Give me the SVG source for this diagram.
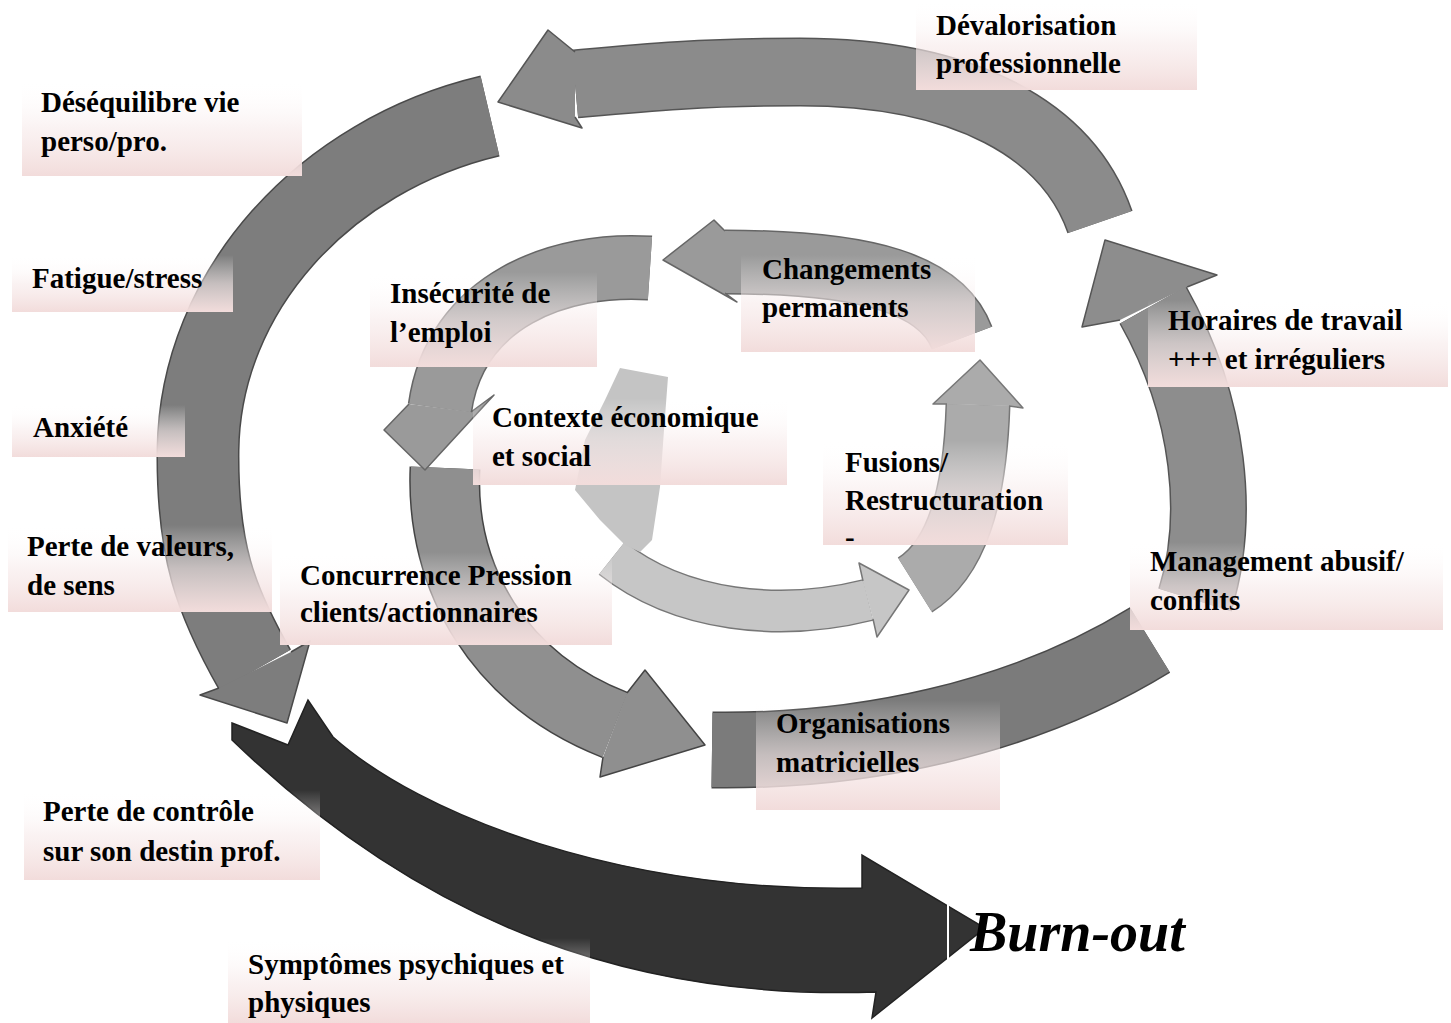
<svg xmlns="http://www.w3.org/2000/svg" width="1451" height="1023" viewBox="0 0 1451 1023">
<defs>
<linearGradient id="pink" x1="0" y1="0" x2="0" y2="1">
<stop offset="0" stop-color="#ffffff" stop-opacity="0"/>
<stop offset="0.5" stop-color="#f7eaea" stop-opacity="0.6"/>
<stop offset="1" stop-color="#f2dcdb" stop-opacity="1"/>
</linearGradient>
<style>
.box{fill:url(#pink)}
.lbl{font-family:"Liberation Serif","Times New Roman",serif;font-weight:bold;font-size:29px;fill:#000}
.burn{font-family:"Liberation Serif","Times New Roman",serif;font-weight:bold;font-style:italic;font-size:56px;fill:#000}
.edge{fill:none;stroke-linecap:butt}
.head{stroke-width:1.5;stroke-linejoin:round}
</style>
</defs>
<rect width="1451" height="1023" fill="#ffffff"/>
<g id="connectors">
<!-- F: burn-out arrow -->
<path d="M232,723 L288,745 L308,700 L333,737 C420,815 620,893 862,888 L862,855 L985,928 L872,1018 L876,992 C640,1000 430,930 232,740 Z" fill="#333333" stroke="#222" stroke-width="1.5"/>
<!-- E: left outer -->
<path class="edge" d="M490,116 C325,155 200,290 198,450 C197,550 215,600 255,670" stroke="#4a4a4a" stroke-width="83"/>
<path class="edge" d="M490,116 C325,155 200,290 198,450 C197,550 215,600 255,670" stroke="#7d7d7d" stroke-width="80"/>
<path class="head" d="M291,652 L310,641 L287,723 L200,695 L219,688" fill="#7d7d7d" stroke="#4a4a4a"/>
<!-- A: top outer -->
<path class="edge" d="M1100,222 C1068,130 965,72 800,72 C700,72 640,78 575,84" stroke="#555" stroke-width="69"/>
<path class="edge" d="M1100,222 C1068,130 965,72 800,72 C700,72 640,78 575,84" stroke="#8b8b8b" stroke-width="66"/>
<path class="head" d="M575,52 L548,30 L498,102 L582,128 L575,117" fill="#8b8b8b" stroke="#555"/>
<!-- D: organisations -->
<path class="edge" d="M712,750 C860,752 1020,720 1150,640" stroke="#4a4a4a" stroke-width="77"/>
<path class="edge" d="M712,750 C860,752 1020,720 1150,640" stroke="#7b7b7b" stroke-width="74"/>
<!-- C: right outer -->
<path class="edge" d="M1195,600 C1220,520 1212,410 1153,305" stroke="#555" stroke-width="77"/>
<path class="edge" d="M1195,600 C1220,520 1212,410 1153,305" stroke="#8d8d8d" stroke-width="74"/>
<path class="head" d="M1187,287 L1217,275 L1105,240 L1082,327 L1120,320" fill="#8d8d8d" stroke="#555"/>
<!-- K: concurrence -->
<path class="edge" d="M445,468 C440,580 500,680 615,725" stroke="#444" stroke-width="71"/>
<path class="edge" d="M445,468 C440,580 500,680 615,725" stroke="#8f8f8f" stroke-width="68"/>
<path class="head" d="M627,693 L645,670 L705,745 L600,777 L603,757" fill="#8f8f8f" stroke="#444"/>
<!-- L: insecurite -->
<path class="edge" d="M650,268 C560,262 455,300 440,408" stroke="#666" stroke-width="65"/>
<path class="edge" d="M650,268 C560,262 455,300 440,408" stroke="#9a9a9a" stroke-width="62"/>
<path class="head" d="M471,412 L494,395 L425,470 L384,430 L409,404" fill="#9a9a9a" stroke="#666"/>
<!-- G: changements -->
<path class="edge" d="M962,338 C942,285 870,262 725,262" stroke="#666" stroke-width="65"/>
<path class="edge" d="M962,338 C942,285 870,262 725,262" stroke="#9a9a9a" stroke-width="62"/>
<path class="head" d="M725,231 L714,220 L663,260 L737,302 L725,293" fill="#9a9a9a" stroke="#666"/>
<!-- H: fusions -->
<path class="edge" d="M915,585 C955,560 975,500 978,405" stroke="#777" stroke-width="65"/>
<path class="edge" d="M915,585 C955,560 975,500 978,405" stroke="#ababab" stroke-width="62"/>
<path class="head" d="M1009,406 L1023,408 L980,360 L933,404 L947,404" fill="#ababab" stroke="#777"/>
<!-- I: innermost -->
<path class="edge" d="M612,558 C680,612 780,622 868,600" stroke="#777" stroke-width="43"/>
<path class="edge" d="M612,558 C680,612 780,622 868,600" stroke="#c6c6c6" stroke-width="40"/>
<path class="head" d="M863,581 L859,563 L909,590 L877,637 L873,619" fill="#c6c6c6" stroke="#777"/>
<!-- J: centre -->
<path d="M620,368 L668,377 L664,430 L660,487 L652,540 L640,552 L625,545 L600,520 L575,490 L585,440 L605,400 Z" fill="#c4c4c4"/>
</g>
<g id="node-desequilibre"><rect class="box" x="22" y="80" width="280" height="96"/><text class="lbl" x="41" y="112">Déséquilibre vie</text><text class="lbl" x="41" y="151">perso/pro.</text></g>
<g id="node-devalorisation"><rect class="box" x="916" y="0" width="281" height="90"/><text class="lbl" x="936" y="35">Dévalorisation</text><text class="lbl" x="936" y="73">professionnelle</text></g>
<g id="node-fatigue"><rect class="box" x="12" y="255" width="221" height="57"/><text class="lbl" x="32" y="288">Fatigue/stress</text></g>
<g id="node-anxiete"><rect class="box" x="12" y="405" width="173" height="52"/><text class="lbl" x="33" y="437">Anxiété</text></g>
<g id="node-valeurs"><rect class="box" x="8" y="525" width="264" height="87"/><text class="lbl" x="27" y="556">Perte de valeurs,</text><text class="lbl" x="27" y="595">de sens</text></g>
<g id="node-controle"><rect class="box" x="24" y="790" width="296" height="90"/><text class="lbl" x="43" y="821">Perte de contrôle</text><text class="lbl" x="43" y="861">sur son destin prof.</text></g>
<g id="node-symptomes"><rect class="box" x="228" y="938" width="362" height="85"/><text class="lbl" x="248" y="974">Symptômes psychiques et</text><text class="lbl" x="248" y="1012">physiques</text></g>
<g id="node-insecurite"><rect class="box" x="370" y="272" width="227" height="95"/><text class="lbl" x="390" y="303">Insécurité de</text><text class="lbl" x="390" y="342">l’emploi</text></g>
<g id="node-changements"><rect class="box" x="741" y="255" width="234" height="97"/><text class="lbl" x="762" y="279">Changements</text><text class="lbl" x="762" y="317">permanents</text></g>
<g id="node-horaires"><rect class="box" x="1148" y="300" width="300" height="87"/><text class="lbl" x="1168" y="330">Horaires de travail</text><text class="lbl" x="1168" y="369">+++ et irréguliers</text></g>
<g id="node-contexte"><rect class="box" x="473" y="398" width="314" height="87"/><text class="lbl" x="492" y="427">Contexte économique</text><text class="lbl" x="492" y="466">et social</text></g>
<g id="node-fusions"><svg x="823" y="440" width="245" height="105" viewBox="823 440 245 105" overflow="hidden"><rect class="box" x="823" y="440" width="245" height="105"/><text class="lbl" x="845" y="472">Fusions/</text><text class="lbl" x="845" y="510">Restructuration</text><text class="lbl" x="845" y="547">-</text></svg></g>
<g id="node-concurrence"><rect class="box" x="280" y="552" width="332" height="93"/><text class="lbl" x="300" y="585">Concurrence Pression</text><text class="lbl" x="300" y="622">clients/actionnaires</text></g>
<g id="node-management"><rect class="box" x="1130" y="542" width="313" height="88"/><text class="lbl" x="1150" y="571">Management abusif/</text><text class="lbl" x="1150" y="610">conflits</text></g>
<g id="node-organisations"><rect class="box" x="756" y="700" width="244" height="110"/><text class="lbl" x="776" y="733">Organisations</text><text class="lbl" x="776" y="772">matricielles</text></g>
<g id="node-burnout"><line x1="948" y1="880" x2="948" y2="968" stroke="#ffffff" stroke-width="2"/><text class="burn" x="970" y="951">Burn-out</text></g>
</svg>
